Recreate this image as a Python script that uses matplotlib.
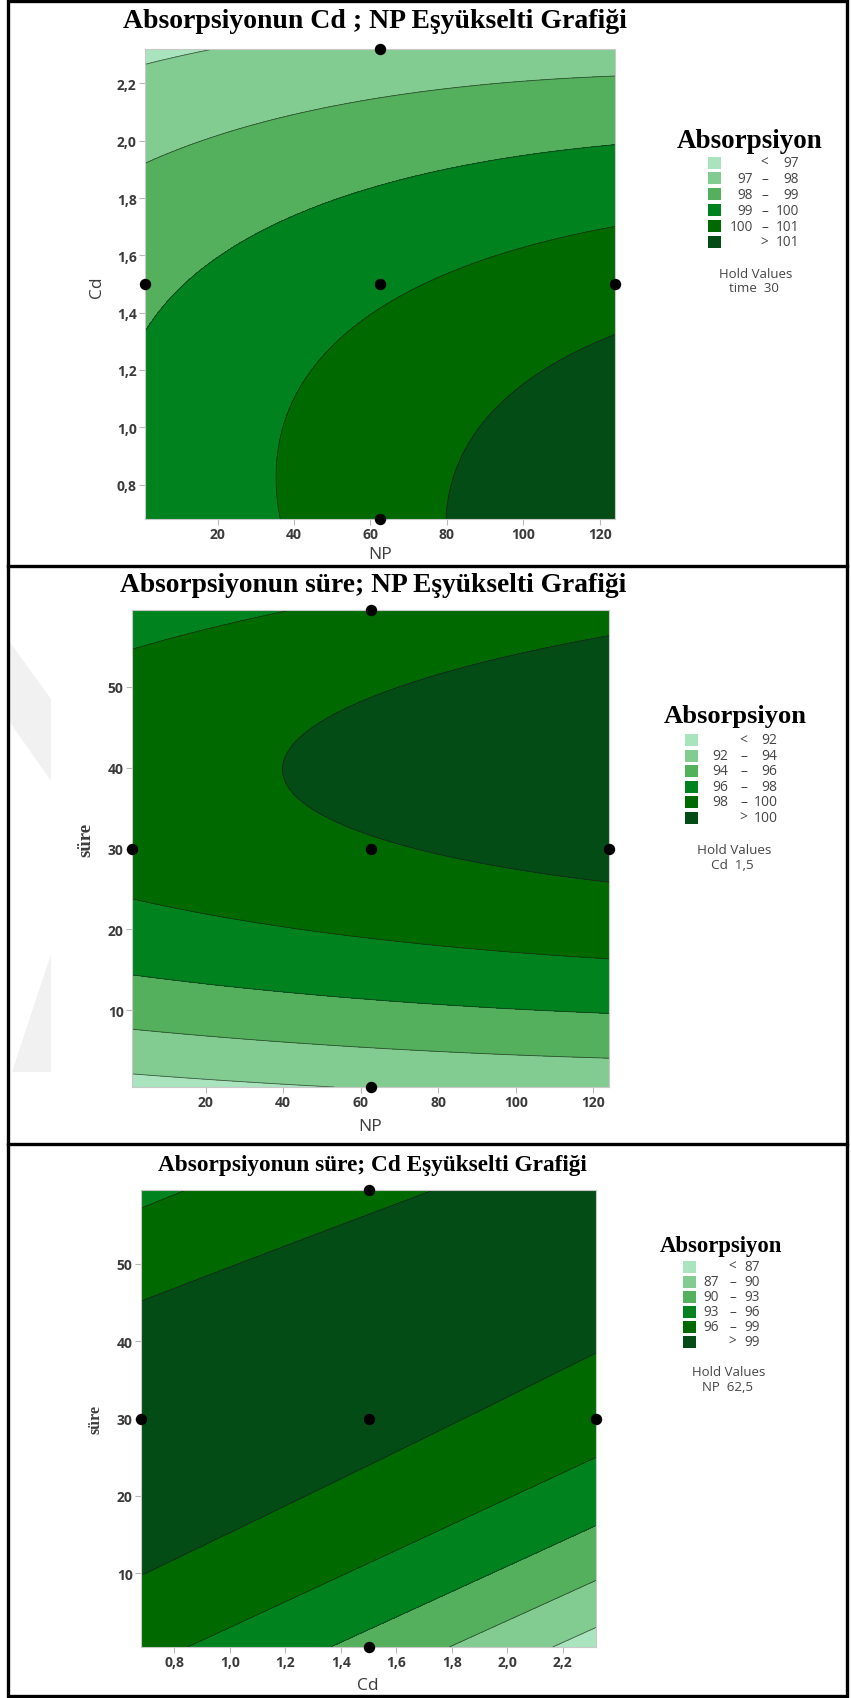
import numpy as np
import matplotlib
matplotlib.use("Agg")
import matplotlib.pyplot as plt
from matplotlib.patches import Rectangle, Polygon
from matplotlib.lines import Line2D

W, H, DPI = 851, 1699, 100

# Second-order response model for absorption, in coded factor units
factor_names = ["NP", "Cd", "time"]
factor_centers = [62.5, 1.5, 30.0]
factor_steps = [37.5, 0.5, 17.5]
factor_limits = [(1.0, 124.0), (0.68, 2.32), (0.5, 59.5)]
intercept = 99.84
linear_terms = [0.54, -1.0, 1.873]
square_terms = [-0.055, -0.32, -1.615]
interaction_pairs = [(0, 1), (0, 2), (1, 2)]
interaction_terms = [-0.19, 0.105, 1.43]

# Contour levels and fill colours (light -> dark)
levels_cd_np = [97, 98, 99, 100, 101]
levels_time_np = [92, 94, 96, 98, 100]
levels_time_cd = [87, 90, 93, 96, 99]
band_colors = ["#a9e4be", "#82cc91", "#54b05c", "#00821f", "#006a00", "#034c16"]

# Design points shown on each plot
points_cd_np_x = [62.5, 1.0, 62.5, 124.0, 62.5]
points_cd_np_y = [2.32, 1.5, 1.5, 1.5, 0.68]
points_time_np_x = [62.5, 1.0, 62.5, 124.0, 62.5]
points_time_np_y = [59.5, 30.0, 30.0, 30.0, 0.5]
points_time_cd_x = [1.5, 0.68, 1.5, 2.32, 1.5]
points_time_cd_y = [59.5, 30.0, 30.0, 30.0, 0.5]

# Tick positions and labels
np_ticks = [20, 40, 60, 80, 100, 120]
np_labels = ["20", "40", "60", "80", "100", "120"]
cd_ticks = [0.8, 1.0, 1.2, 1.4, 1.6, 1.8, 2.0, 2.2]
cd_labels = ["0,8", "1,0", "1,2", "1,4", "1,6", "1,8", "2,0", "2,2"]
time_ticks = [10, 20, 30, 40, 50]
time_labels = ["10", "20", "30", "40", "50"]

titles = ["Absorpsiyonun Cd ; NP Eşyükselti Grafiği",
          "Absorpsiyonun süre; NP Eşyükselti Grafiği",
          "Absorpsiyonun süre; Cd Eşyükselti Grafiği"]
hold_texts = ["time  30", "Cd  1,5", "NP  62,5"]


def response(values):
    coded = [(v - c) / s for v, c, s in zip(values, factor_centers, factor_steps)]
    z = intercept
    for b, x in zip(linear_terms, coded):
        z = z + b * x
    for b, x in zip(square_terms, coded):
        z = z + b * x * x
    for (i, j), b in zip(interaction_pairs, interaction_terms):
        z = z + b * coded[i] * coded[j]
    return z


fig = plt.figure(figsize=(W / DPI, H / DPI), dpi=DPI)
fig.patch.set_facecolor("white")
renderer = fig.canvas.get_renderer()

SERIF = ["Liberation Serif", "DejaVu Serif"]
SANS = ["Open Sans", "DejaVu Sans"]
TICK_COLOR = "#3a3a3a"
LABEL_COLOR = "#3c3c3c"
LEGEND_COLOR = "#454545"


def fx(x):
    return x / W


def fy(y):
    return 1 - y / H


def text_px(x, y, s, width=None, **kw):
    t = fig.text(fx(x), fy(y), s, **kw)
    if width is not None:
        w = t.get_window_extent(renderer).width
        t.set_fontsize(t.get_fontsize() * width / w)
    return t


def make_axes(x0, y0, x1, y1):
    return fig.add_axes([fx(x0), fy(y1), (x1 - x0) / W, (y1 - y0) / H])


def draw_panel(ax, xi, yi, hold, levels, px, py, xticks, xlabels, yticks, ylabels):
    xs = np.linspace(*factor_limits[xi], 300)
    ys = np.linspace(*factor_limits[yi], 300)
    X, Y = np.meshgrid(xs, ys)
    vals = [None, None, None]
    for k in range(3):
        vals[k] = np.full_like(X, hold[k]) if hold[k] is not None else None
    vals[xi] = X
    vals[yi] = Y
    Z = response(vals)
    bounds = [-1e9] + list(levels) + [1e9]
    ax.contourf(X, Y, Z, levels=bounds, colors=band_colors)
    ax.contour(X, Y, Z, levels=levels, colors="#1a1a1a", linewidths=0.6, alpha=0.65)
    ax.plot(px, py, "o", color="black", markersize=7.2, clip_on=False, zorder=5)
    ax.set_xlim(*factor_limits[xi])
    ax.set_ylim(*factor_limits[yi])
    ax.set_xticks(xticks)
    ax.set_xticklabels(xlabels)
    ax.set_yticks(yticks)
    ax.set_yticklabels(ylabels)
    ax.tick_params(direction="out", length=4, width=0.8, color="#b8b8b8",
                   labelsize=10, labelcolor=TICK_COLOR, pad=2)
    for lab in ax.get_xticklabels() + ax.get_yticklabels():
        lab.set_family(SANS)
        lab.set_weight("bold")
    for sp in ax.spines.values():
        sp.set_color("#c8c8c8")
        sp.set_linewidth(0.8)


def draw_legend(title_xy, title_w, sw_x, row0, step, col_lo, col_sym, col_hi,
                levels, hold_xy, hold_text, fsize):
    text_px(title_xy[0], title_xy[1], "Absorpsiyon", width=title_w, ha="center",
            va="center", family=SERIF, weight="bold", fontsize=16, color="black")
    for i, c in enumerate(band_colors):
        yc = row0 + i * step
        fig.add_artist(Rectangle((fx(sw_x), fy(yc + 6)), 13 / W, 12 / H,
                                 transform=fig.transFigure, facecolor=c,
                                 edgecolor="none"))
        kw = dict(va="center", family=SANS, fontsize=fsize, color=LEGEND_COLOR)
        if i == 0:
            text_px(col_sym, yc, "<", ha="center", **kw)
            text_px(col_hi, yc, str(levels[0]), ha="right", **kw)
        elif i == len(band_colors) - 1:
            text_px(col_sym, yc, ">", ha="center", **kw)
            text_px(col_hi, yc, str(levels[-1]), ha="right", **kw)
        else:
            text_px(col_lo, yc, str(levels[i - 1]), ha="right", **kw)
            text_px(col_sym, yc, "–", ha="center", **kw)
            text_px(col_hi, yc, str(levels[i]), ha="right", **kw)
    kw = dict(ha="center", va="center", family=SANS, fontsize=fsize - 0.3,
              color=LEGEND_COLOR)
    text_px(hold_xy[0], hold_xy[1], "Hold Values", **kw)
    text_px(hold_xy[0] - 2, hold_xy[1] + 15, hold_text, **kw)


def shape_px(points, color="#f1f1f1"):
    pts = [(fx(x), fy(y)) for x, y in points]
    fig.add_artist(Polygon(pts, closed=True, transform=fig.transFigure,
                           facecolor=color, edgecolor="none", zorder=0))


# Faint page watermark visible in the left margin of the middle chart
shape_px([(9, 642), (51, 700), (51, 782), (9, 722)])
shape_px([(51, 955), (51, 1073), (12, 1073)])

# Panel 1: Cd vs NP, time held at 30
ax1 = make_axes(145, 50, 615, 520)
draw_panel(ax1, 0, 1, [None, None, 30.0], levels_cd_np, points_cd_np_x,
           points_cd_np_y, np_ticks, np_labels, cd_ticks, cd_labels)
text_px(375, 22, titles[0], width=504, ha="center", va="center", family=SERIF,
        weight="bold", fontsize=20)
text_px(380, 555, "NP", ha="center", va="center", family=SANS, fontsize=12.5,
        color=LABEL_COLOR)
text_px(97, 287, "Cd", ha="center", va="center", rotation=90, family=SANS,
        fontsize=12.5, color=LABEL_COLOR)
draw_legend((750, 141), 146, 708, 163.5, 15.9, 752.7, 764.5, 799.3,
            levels_cd_np, (756, 274), hold_texts[0], 9.8)

# Panel 2: time vs NP, Cd held at 1.5
ax2 = make_axes(132, 611, 609, 1088)
draw_panel(ax2, 0, 2, [None, 1.5, None], levels_time_np, points_time_np_x,
           points_time_np_y, np_ticks, np_labels, time_ticks, time_labels)
text_px(373, 586, titles[1], width=508, ha="center", va="center", family=SERIF,
        weight="bold", fontsize=20)
text_px(370, 1127, "NP", ha="center", va="center", family=SANS, fontsize=12.5,
        color=LABEL_COLOR)
text_px(86, 840, "süre", ha="center", va="center", rotation=90, family=SERIF,
        weight="bold", fontsize=13.5, color=LABEL_COLOR)
draw_legend((735, 716), 143, 685, 741, 15.5, 728.3, 743.5, 777.3,
            levels_time_np, (734, 851), hold_texts[1], 10)

# Panel 3: time vs Cd, NP held at 62.5
ax3 = make_axes(141, 1191, 596, 1648)
draw_panel(ax3, 1, 2, [62.5, None, None], levels_time_cd, points_time_cd_x,
           points_time_cd_y, cd_ticks, cd_labels, time_ticks, time_labels)
text_px(372, 1166, titles[2], width=428, ha="center", va="center", family=SERIF,
        weight="bold", fontsize=18)
text_px(368, 1686, "Cd", ha="center", va="center", family=SANS, fontsize=12.5,
        color=LABEL_COLOR)
text_px(95, 1420, "süre", ha="center", va="center", rotation=90, family=SERIF,
        weight="bold", fontsize=11.5, color=LABEL_COLOR)
draw_legend((721, 1247), 123, 683, 1267.7, 15.0, 719.3, 732.5, 760,
            levels_time_cd, (729, 1373), hold_texts[2], 9.8)

# Outer frame and separators between the three charts
frame_kw = dict(transform=fig.transFigure, color="black", linewidth=2.4)
fig.add_artist(Rectangle((fx(8), fy(1697)), (847 - 8) / W, (1697 - 2) / H,
                         transform=fig.transFigure, fill=False,
                         edgecolor="black", linewidth=2.4))
for yline in (567, 1145):
    fig.add_artist(Line2D([fx(8), fx(847)], [fy(yline), fy(yline)], **frame_kw))

fig.savefig("out.png", dpi=DPI, facecolor="white")
